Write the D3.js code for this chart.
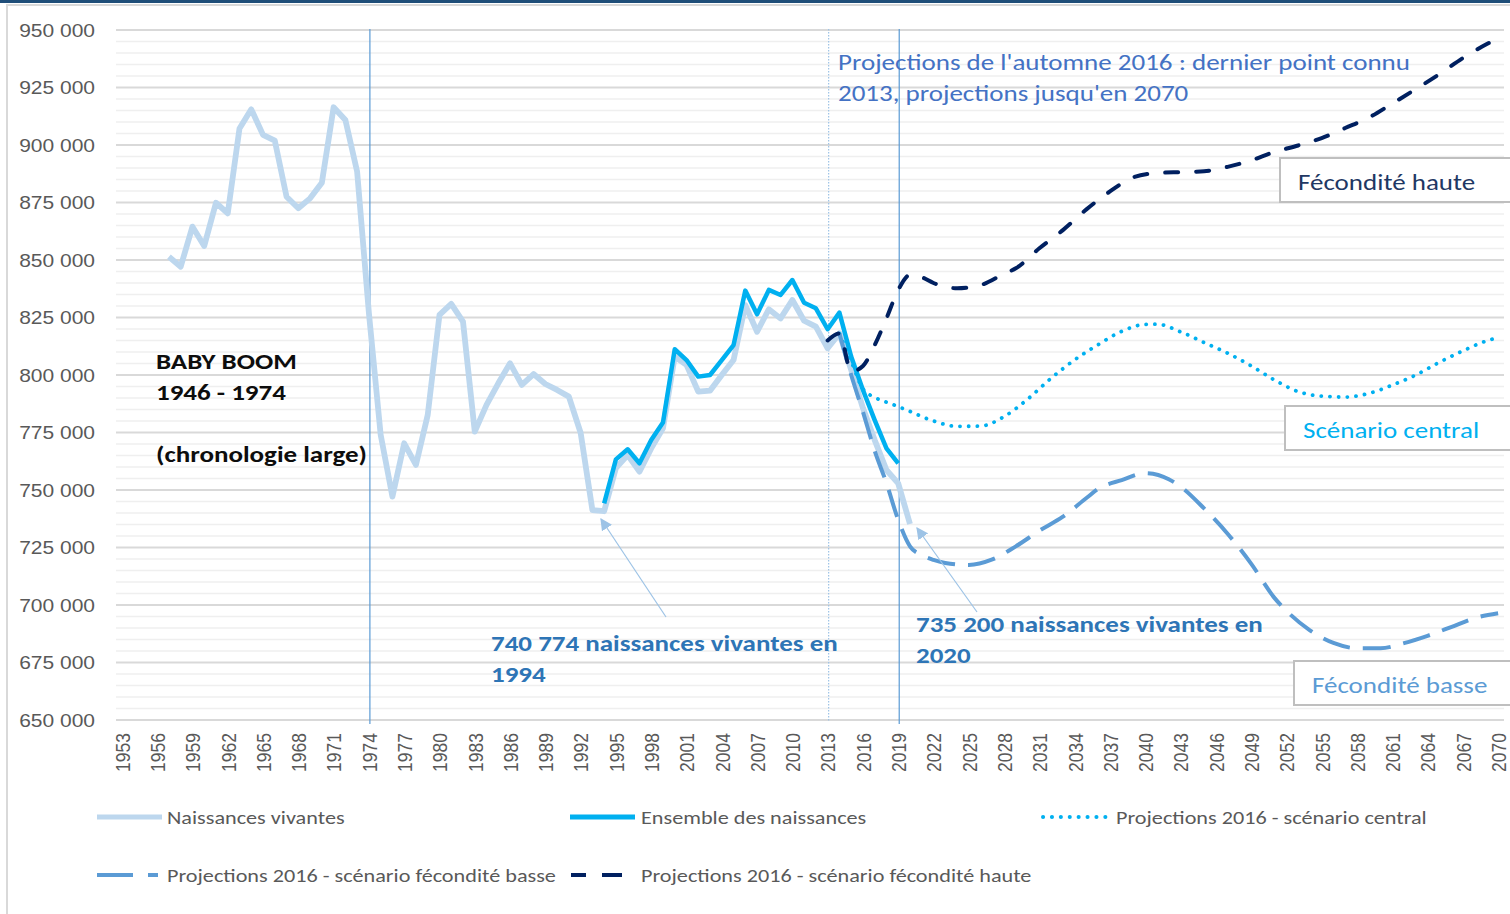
<!DOCTYPE html>
<html>
<head>
<meta charset="utf-8">
<script src="https://cdn.jsdelivr.net/npm/d3@7"></script>
<style>
body { margin: 0; background: #fff; }
svg { display: block; font-family: Carlito, Calibri, Lato, sans-serif; }
</style>
</head>
<body>
<svg id="chart" width="1510" height="914"></svg>
<script>
// categories
var years = d3.range(1953, 2071);
var tickYears = d3.range(1953, 2071, 3);
var yTicks = d3.range(650000, 950001, 25000);
var yMinor = d3.range(650000, 950001, 5000);

// naissances vivantes (1957-2020)
var vivantesYears = d3.range(1957, 2021);
var vivantes = [851400, 847100, 864500, 856100, 874900, 870300, 907200, 915500, 904400, 901900,
	877500, 872500, 876800, 883600, 916400, 910900, 888400, 827000, 774000, 747100,
	770300, 760900, 782600, 826100, 830900, 823200, 775400, 787000, 796400, 805100,
	795700, 800400, 796100, 793500, 790600, 774900, 741300, 740774, 759600, 765200,
	758000, 768100, 776800, 808000, 804400, 792800, 793200, 800000, 806500, 830400,
	818800, 828600, 824600, 832600, 823600, 821000, 811600, 818100, 802200, 785600,
	771700, 758700, 752900, 735200];

// ensemble des naissances (1994-2019)
var ensembleYears = d3.range(1994, 2020);
var ensemble = [744200, 763300, 767700, 761600, 771700, 779300, 811200, 806500, 799300, 800000,
	806500, 813000, 836700, 826400, 837000, 834800, 841300, 831400, 829000, 819900,
	827100, 808000, 793500, 780400, 768100, 761600];

// projections 2016 - scenario central
var centralYears = [2014, 2015, 2016, 2017, 2018, 2019, 2020, 2022, 2024, 2026, 2028, 2030, 2032, 2034,
	2036, 2038, 2040, 2041, 2043, 2045, 2047, 2049, 2051, 2053, 2055, 2057, 2059, 2061, 2063,
	2065, 2067, 2069, 2070];
var central = [818000, 806000, 794000, 790300, 788200, 786300, 784200, 780000, 777700, 777800, 781900,
	789500, 798600, 806600, 813200, 819000, 822000, 822100, 818800, 814100, 809500, 804000,
	797800, 792800, 790800, 790400, 792000, 795600, 800000, 805500, 810500, 814800, 816300];

// projections 2016 - fecondite basse
var basseYears = [2014, 2015, 2016, 2017, 2018, 2019, 2020, 2021, 2022, 2023, 2025, 2027, 2029, 2031,
	2033, 2035, 2036, 2038, 2040, 2042, 2043, 2045, 2047, 2049, 2051, 2052, 2054, 2056, 2058,
	2060, 2062, 2064, 2066, 2068, 2070];
var basse = [818000, 800000, 784000, 767000, 753000, 737000, 725500, 721700, 719600, 718300, 717400,
	719800, 725500, 732300, 738400, 746500, 750500, 754300, 757300, 754700, 751500, 742000,
	731000, 718000, 703000, 697500, 689000, 683500, 681200, 681200, 683400, 686600, 690400,
	694300, 696400];

// projections 2016 - fecondite haute
var hauteYears = [2013, 2014, 2015, 2016, 2017, 2018, 2019, 2020, 2021, 2022, 2024, 2026, 2028, 2029,
	2031, 2033, 2035, 2037, 2039, 2041, 2043, 2045, 2047, 2049, 2051, 2053, 2055, 2057, 2059,
	2061, 2063, 2065, 2067, 2069, 2070];
var haute = [815000, 818100, 801500, 803900, 813000, 824600, 837000, 843500, 842500, 840000, 837700,
	839100, 844000, 846400, 855100, 863000, 872000, 879800, 886000, 887800, 888200, 888600,
	890500, 893300, 897000, 899800, 903000, 907400, 911900, 918000, 924300, 930800, 937800,
	943800, 946400];

var markerYears = [1974, 2013, 2019];

var svg = d3.select("#chart");
var plotL = 116, plotR = 1504, plotT = 30, plotB = 720;
var sx = 1.2; // the original picture is stretched horizontally

var x = d3.scalePoint().domain(years).range([plotL, plotR]).padding(0.5);
var y = d3.scaleLinear().domain([650000, 950000]).range([plotB, plotT]);

var fr = d3.formatLocale({decimal: ",", thousands: " ", grouping: [3], currency: ["", " €"]});
var fmt = fr.format(",");

function addText(x0, y0, str, size, weight, color, anchor){
	svg.append("g").attr("transform", "translate(" + x0 + "," + y0 + ") scale(" + sx + ",1)")
		.append("text")
		.style("font-size", size + "px").style("font-weight", weight || 400)
		.style("text-anchor", anchor || "start")
		.attr("fill", color).text(str);
}

// frame
svg.append("rect").attr("x", 0).attr("y", 0).attr("width", 1510).attr("height", 3).attr("fill", "#1F4E79");
svg.append("path").attr("d", "M7,914V5H1510").attr("fill", "none").attr("stroke", "#D9D9D9").attr("stroke-width", 2);

// gridlines
svg.append("g").selectAll("line").data(yMinor.filter(function(v){ return v % 25000 != 0; }))
	.enter().append("line")
	.attr("x1", plotL).attr("x2", plotR)
	.attr("y1", function(d){ return y(d); }).attr("y2", function(d){ return y(d); })
	.attr("stroke", "#EFEFEF").attr("stroke-width", 1.5);
svg.append("g").selectAll("line").data(yTicks)
	.enter().append("line")
	.attr("x1", plotL).attr("x2", plotR)
	.attr("y1", function(d){ return y(d); }).attr("y2", function(d){ return y(d); })
	.attr("stroke", "#D9D9D9").attr("stroke-width", 1.8);

// axes
var yAxis = svg.append("g").attr("transform", "translate(" + plotL + ",0)")
	.call(d3.axisLeft(y).tickValues(yTicks).tickFormat(fmt).tickSize(0));
yAxis.select(".domain").remove();
yAxis.selectAll("text")
	.attr("x", 0).attr("dy", "0.35em")
	.attr("transform", "translate(-21,0) scale(" + sx + ",1)")
	.attr("fill", "#595959").style("font-size", "17.5px");

var xAxis = svg.append("g").attr("transform", "translate(0," + plotB + ")")
	.call(d3.axisBottom(x).tickValues(tickYears).tickSize(0).tickPadding(0));
xAxis.select(".domain").remove();
xAxis.selectAll("text")
	.attr("transform", "scale(" + sx + ",1) rotate(-90)")
	.attr("x", -13).attr("y", 0).attr("dy", "0.35em")
	.style("text-anchor", "end")
	.attr("fill", "#595959").style("font-size", "17.5px");

// vertical markers
svg.append("g").selectAll("line").data(markerYears)
	.enter().append("line")
	.attr("x1", function(d){ return x(d) + 1; }).attr("x2", function(d){ return x(d) + 1; })
	.attr("y1", 29).attr("y2", function(d){ return d == 2013 ? 722 : 724; })
	.attr("stroke", function(d){ return d == 2013 ? "#9DC3E6" : "#5B9BD5"; })
	.attr("stroke-width", 1.2)
	.attr("stroke-dasharray", function(d){ return d == 2013 ? "1.5 1.5" : null; });

function drawLine(ys, vs, color, width, dash, cap, curve){
	var pts = ys.map(function(yr, i){ return [yr, vs[i]]; });
	var line = d3.line()
		.x(function(d){ return x(d[0]); })
		.y(function(d){ return y(d[1]); })
		.curve(curve || d3.curveLinear);
	svg.append("path").datum(pts)
		.attr("d", line)
		.attr("fill", "none")
		.attr("stroke", color)
		.attr("stroke-width", width)
		.attr("stroke-linejoin", "round")
		.attr("stroke-linecap", cap || "round")
		.attr("stroke-dasharray", dash);
}

var series = [
	{name: "Naissances vivantes", ys: vivantesYears, vs: vivantes, color: "#BDD7EE", width: 5.8, dash: null, cap: "butt", curve: d3.curveLinear},
	{name: "Ensemble des naissances", ys: ensembleYears, vs: ensemble, color: "#00B0F0", width: 4.5, dash: null, cap: "butt", curve: d3.curveLinear},
	{name: "Projections 2016 -  scénario central", ys: centralYears, vs: central, color: "#00B0F0", width: 3.8, dash: "0.1 8.6", cap: "round", curve: d3.curveMonotoneX},
	{name: "Projections 2016 - scénario fécondité basse", ys: basseYears, vs: basse, color: "#5B9BD5", width: 4, dash: "28 13", cap: "butt", curve: d3.curveMonotoneX},
	{name: "Projections 2016 - scénario fécondité haute", ys: hauteYears, vs: haute, color: "#002060", width: 4, dash: "13 18", cap: "round", curve: d3.curveMonotoneX}
];
series.forEach(function(s){ drawLine(s.ys, s.vs, s.color, s.width, s.dash, s.cap, s.curve); });

// annotations
var defs = svg.append("defs");
defs.append("marker").attr("id", "arr").attr("viewBox", "0 0 10 10")
	.attr("refX", 9).attr("refY", 5).attr("markerWidth", 12).attr("markerHeight", 12)
	.attr("markerUnits", "userSpaceOnUse").attr("orient", "auto")
	.append("path").attr("d", "M0,0L10,5L0,10Z").attr("fill", "#9DC3E6");

svg.append("line").attr("x1", 666).attr("y1", 617).attr("x2", 601).attr("y2", 519)
	.attr("stroke", "#9DC3E6").attr("stroke-width", 1.2).attr("marker-end", "url(#arr)");
svg.append("line").attr("x1", 977).attr("y1", 612).attr("x2", 917).attr("y2", 528)
	.attr("stroke", "#9DC3E6").attr("stroke-width", 1.2).attr("marker-end", "url(#arr)");

addText(156, 369, "BABY BOOM", 22.5, 700, "#0D0D0D");
addText(156, 400, "1946 - 1974", 22.5, 700, "#0D0D0D");
addText(156, 462, "(chronologie large)", 22.5, 700, "#0D0D0D");
addText(838, 70, "Projections de l'automne 2016 : dernier point connu", 22.5, 400, "#4472C4");
addText(838, 101, "2013, projections jusqu'en 2070", 22.5, 400, "#4472C4");
addText(491, 651, "740 774 naissances vivantes en", 22.5, 700, "#2E75B6");
addText(491, 682, "1994", 22.5, 700, "#2E75B6");
addText(916, 632, "735 200 naissances vivantes en", 22.5, 700, "#2E75B6");
addText(916, 663, "2020", 22.5, 700, "#2E75B6");

// scenario boxes
var boxes = [
	{label: "Fécondité haute", x: 1280, y: 158, color: "#1F3864"},
	{label: "Scénario central", x: 1285, y: 406, color: "#00B0F0"},
	{label: "Fécondité basse", x: 1294, y: 661, color: "#5B9BD5"}
];
boxes.forEach(function(b){
	svg.append("rect").attr("x", b.x).attr("y", b.y).attr("width", 1520 - b.x).attr("height", 44)
		.attr("fill", "#fff").attr("stroke", "#BFBFBF").attr("stroke-width", 2);
	addText(b.x + 18, b.y + 32, b.label, 22.5, 400, b.color);
});

// legend
var legendPos = [
	{x: 97, y: 817, tx: 167},
	{x: 570, y: 817, tx: 641},
	{x: 1043, y: 817, tx: 1116},
	{x: 97, y: 875, tx: 167},
	{x: 571, y: 875, tx: 641}
];
var legendDash = [null, null, "0.1 8.8", "36 15 10 100", "15 16 20 100"];
series.forEach(function(s, i){
	var p = legendPos[i];
	svg.append("line").attr("x1", p.x).attr("x2", i == 2 ? p.x + 64 : p.x + 65)
		.attr("y1", p.y).attr("y2", p.y)
		.attr("stroke", s.color).attr("stroke-width", i < 2 ? 5 : 4)
		.attr("stroke-linecap", i == 2 ? "round" : "butt")
		.attr("stroke-dasharray", legendDash[i]);
	addText(p.tx, p.y + 6.5, s.name, 18.5, 400, "#595959");
});
</script>
</body>
</html>
